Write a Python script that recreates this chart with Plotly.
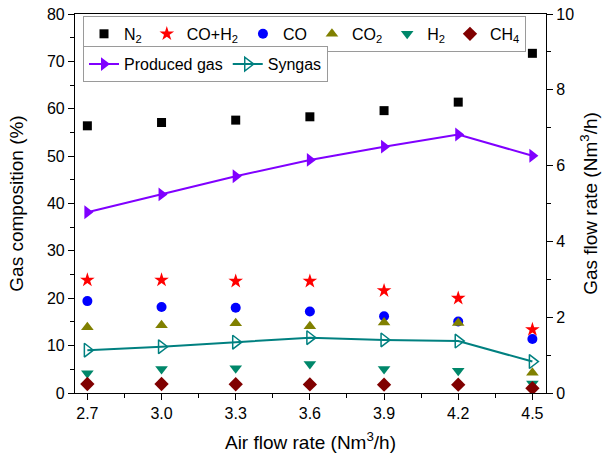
import plotly.graph_objects as go

air_flow = [2.7, 3.0, 3.3, 3.6, 3.9, 4.2, 4.5]
n2 = [56.4, 57.1, 57.6, 58.3, 59.6, 61.4, 71.7]
co_h2 = [23.85, 23.85, 23.6, 23.6, 21.6, 20.0, 13.4]
co = [19.4, 18.15, 18.0, 17.2, 16.2, 15.1, 11.4]
co2 = [13.9, 14.3, 14.7, 14.1, 14.9, 14.8, 4.3]
h2 = [4.15, 5.07, 5.2, 6.1, 5.07, 4.7, 2.0]
ch4 = [1.9, 1.9, 1.85, 1.8, 1.75, 1.75, 1.0]
produced_gas = [4.77, 5.24, 5.72, 6.15, 6.50, 6.82, 6.26]
syngas = [1.13, 1.22, 1.34, 1.46, 1.40, 1.37, 0.83]

FONT = "Liberation Sans"

fig = go.Figure()

scatter_specs = [
    ("N<sub>2</sub>", n2, "square", "#000000", 9),
    ("CO+H<sub>2</sub>", co_h2, "star", "#ff0000", 11),
    ("CO", co, "circle", "#0000ff", 10),
    ("CO<sub>2</sub>", co2, "triangle-up", "#808000", 11),
    ("H<sub>2</sub>", h2, "triangle-down", "#00876a", 11),
    ("CH<sub>4</sub>", ch4, "diamond", "#800000", 11),
]
for name, vals, sym, col, sz in scatter_specs:
    fig.add_trace(go.Scatter(
        x=air_flow, y=vals, name=name, mode="markers",
        marker=dict(symbol=sym, color=col, size=sz, line=dict(width=0)),
        legend="legend", yaxis="y",
    ))

fig.add_trace(go.Scatter(
    x=air_flow, y=produced_gas, name="Produced gas", mode="lines+markers",
    line=dict(color="#8000ff", width=2),
    marker=dict(symbol="triangle-right", color="#8000ff", size=12),
    legend="legend2", yaxis="y2",
))
fig.add_trace(go.Scatter(
    x=air_flow, y=syngas, name="Syngas", mode="lines+markers",
    line=dict(color="#008080", width=2),
    marker=dict(symbol="triangle-right-open", color="#008080", size=12, line=dict(width=1.5)),
    legend="legend2", yaxis="y2",
))

axis_common = dict(
    showline=True, linecolor="#000000", linewidth=1.2,
    ticks="outside", ticklen=6, tickwidth=1.2, tickcolor="#000000",
    showgrid=False, zeroline=False, automargin=False,
    tickfont=dict(family=FONT, size=16, color="#000000"),
)

fig.update_layout(
    width=606, height=456,
    margin=dict(l=75, r=60, t=14, b=63),
    plot_bgcolor="white", paper_bgcolor="white",
    font=dict(family=FONT, color="#000000"),
    xaxis=dict(
        range=[2.65, 4.555], tickmode="array",
        tickvals=air_flow, ticktext=[f"{v:.1f}" for v in air_flow],
        mirror=True,
        minor=dict(tickvals=[2.85, 3.15, 3.45, 3.75, 4.05, 4.35], ticks="outside", ticklen=4,
                   tickwidth=1.2, tickcolor="#000000", showgrid=False),
        title=dict(text="Air flow rate (Nm<sup>3</sup>/h)", font=dict(family=FONT, size=19), standoff=14),
        **axis_common,
    ),
    yaxis=dict(
        range=[0, 80], dtick=10, tick0=0,
        minor=dict(dtick=5, ticks="outside", ticklen=4, tickwidth=1.2, tickcolor="#000000", showgrid=False),
        title=dict(text="Gas composition (%)", font=dict(family=FONT, size=19), standoff=18),
        **axis_common,
    ),
    yaxis2=dict(
        range=[0, 10], dtick=2, tick0=0, overlaying="y", side="right",
        minor=dict(dtick=1, ticks="outside", ticklen=4, tickwidth=1.2, tickcolor="#000000", showgrid=False),
        title=dict(text="Gas flow rate (Nm<sup>3</sup>/h)", font=dict(family=FONT, size=19), standoff=10),
        **axis_common,
    ),
    legend=dict(
        orientation="h", x=0.017, y=0.995, xanchor="left", yanchor="top",
        bordercolor="#9a9a9a", borderwidth=1, bgcolor="white",
        font=dict(family=FONT, size=16),
    ),
    legend2=dict(
        orientation="h", x=0.017, y=0.915, xanchor="left", yanchor="top",
        bordercolor="#9a9a9a", borderwidth=1, bgcolor="white",
        font=dict(family=FONT, size=16),
    ),
    showlegend=True,
)

fig.write_html(
    "out.html",
    config={"displayModeBar": False},
    post_script="document.body.style.margin='0px';",
)
